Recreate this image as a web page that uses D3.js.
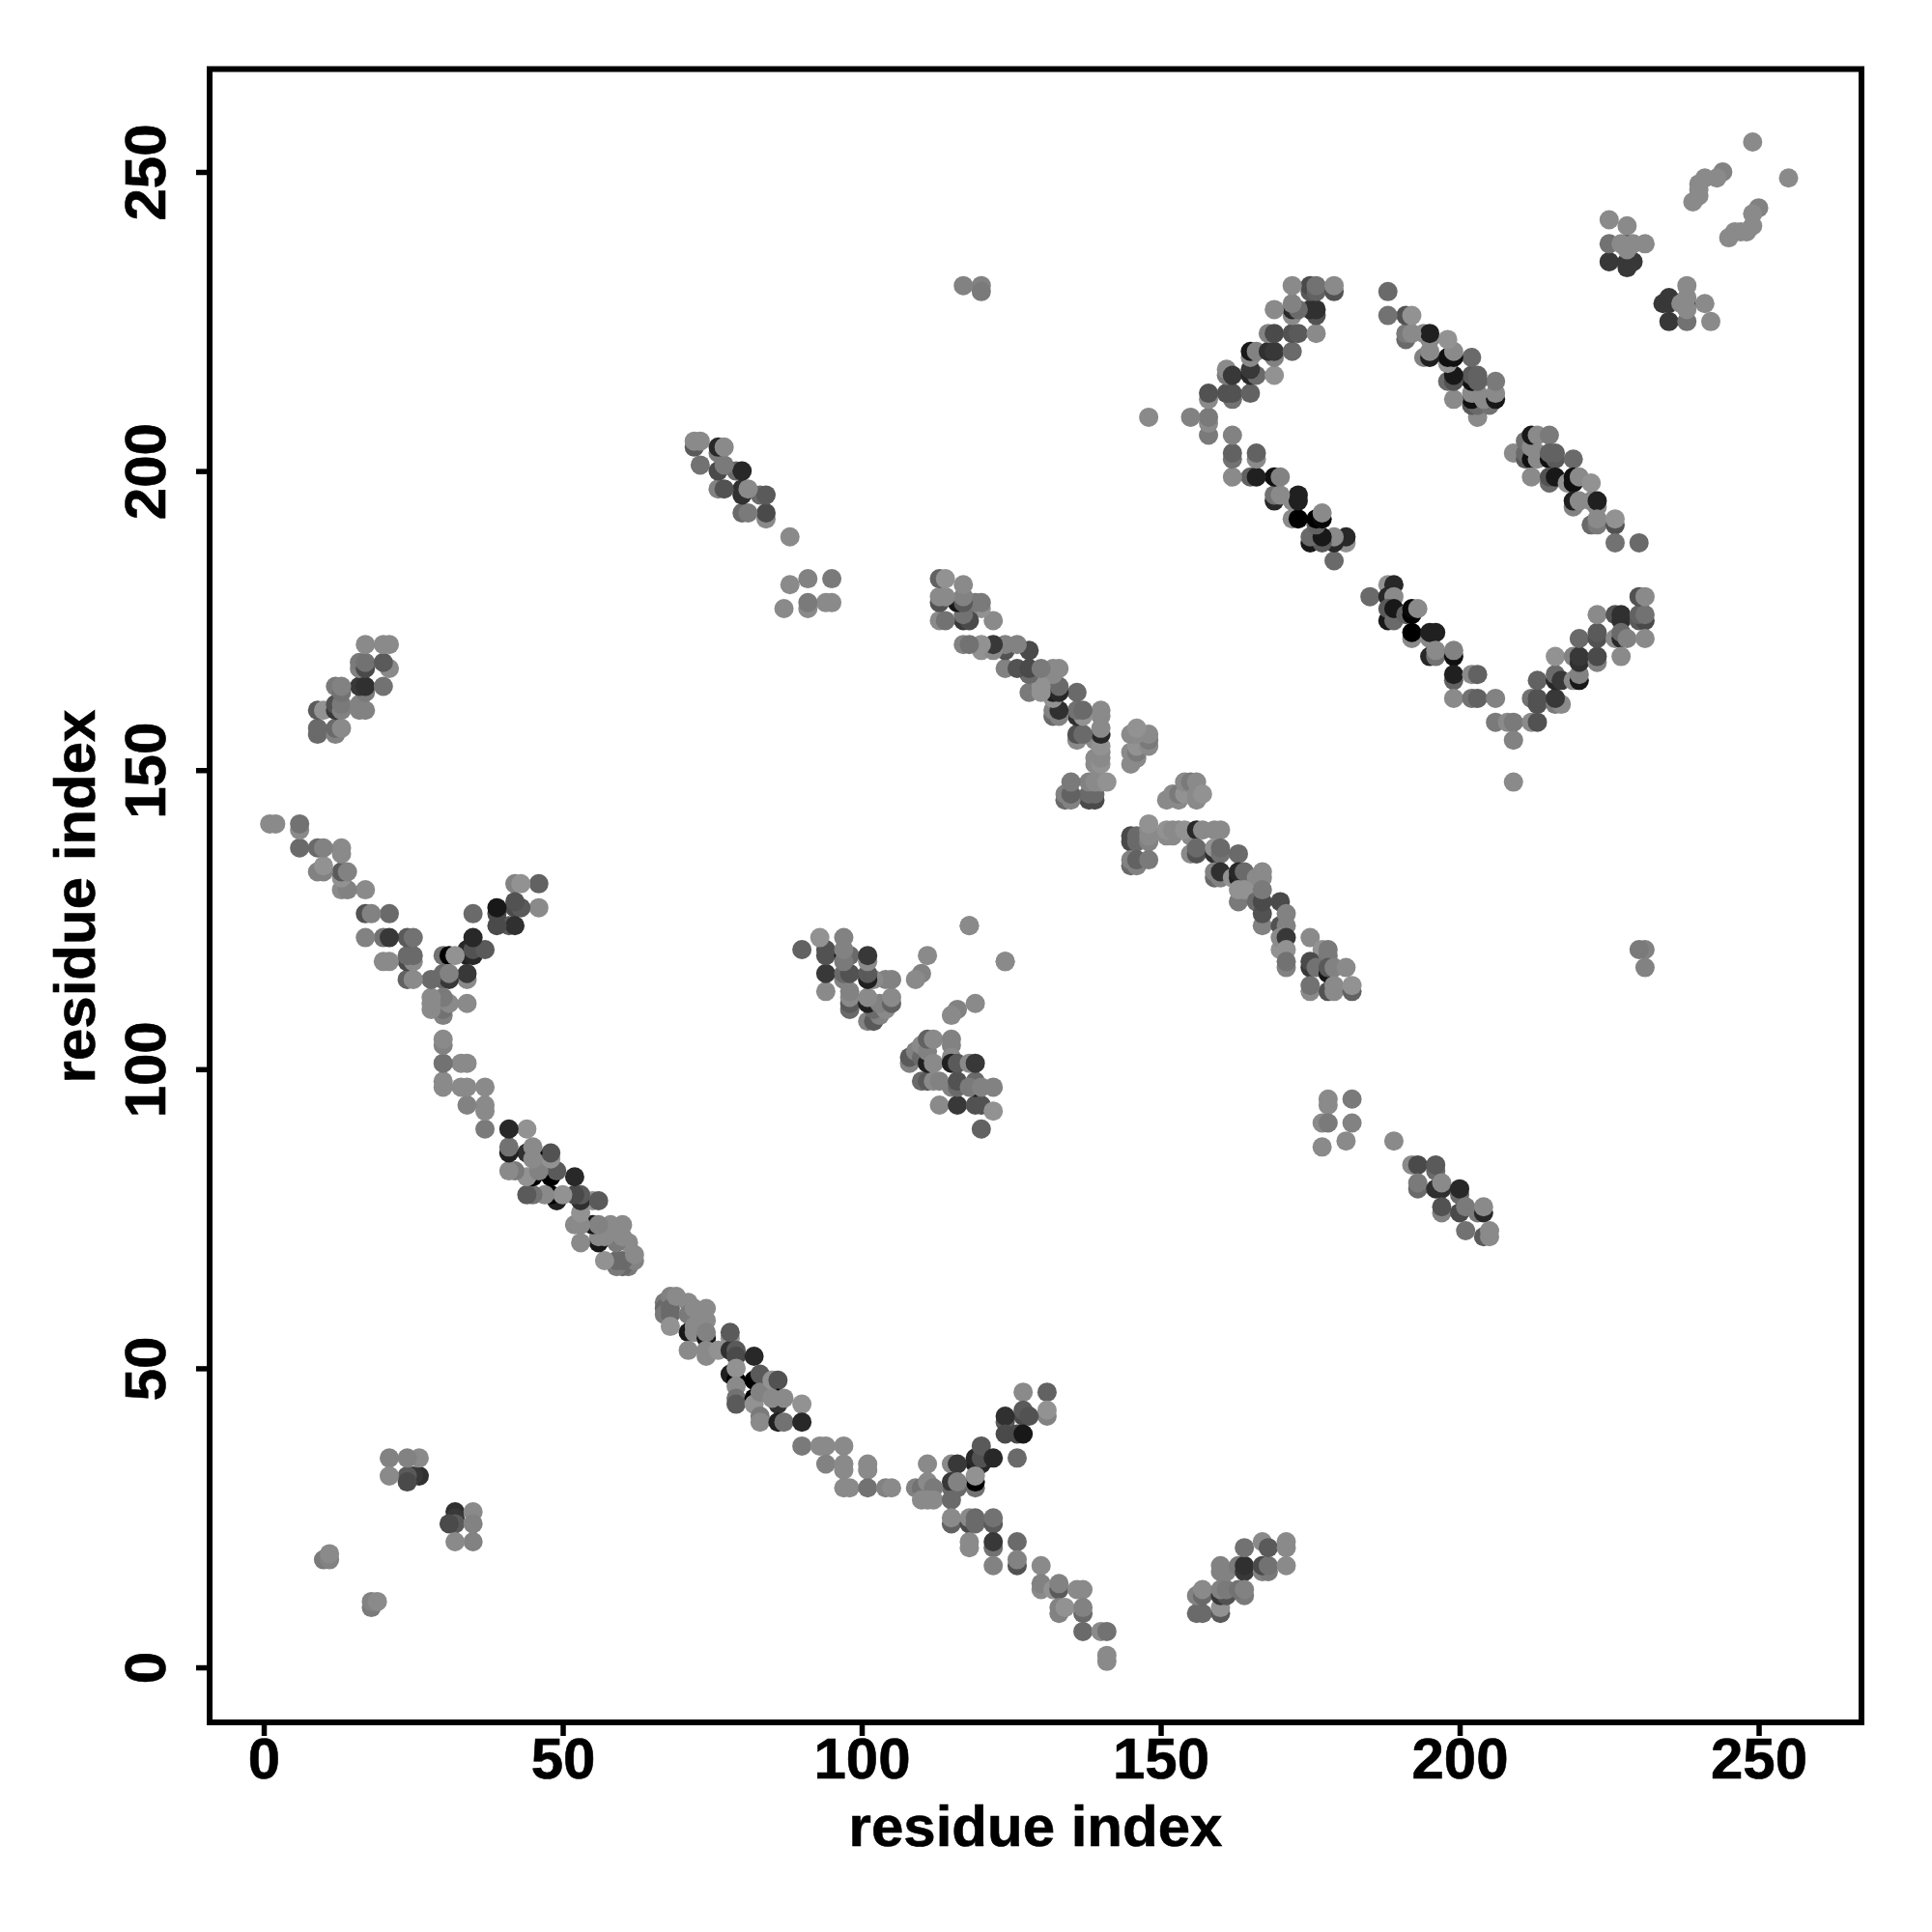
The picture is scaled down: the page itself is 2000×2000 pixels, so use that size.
<!DOCTYPE html>
<html><head><meta charset="utf-8">
<script src="https://cdn.jsdelivr.net/npm/d3@7"></script>
<style>html,body{margin:0;padding:0;background:#fff}svg{display:block}</style>
</head><body><div id="chart"></div>
<script>
// [residue i, residue j, grey level], i > j; the map is symmetric, so each contact is also drawn at (j, i)
const helixPairA=[[67,61,0x70],[67,60,0x60],[67,59,0x70],[68,62,0x78],[68,60,0x60],[68,59,0x60],[68,57,0x88],[69,62,0x80],[71,61,0x80],[71,59,0x70],[71,56,0x18],[71,53,0x80],[72,60,0x80],[72,57,0x80],[72,56,0x80],[74,55,0x18],[74,60,0x80],[74,58,0x80],[74,56,0x78],[74,53,0x80],[74,52,0x80],[76,53,0x88],[78,55,0x88],[78,53,0x30],[78,49,0x20],[78,56,0x50],[79,48,0],[79,53,0x50],[79,52,0x40],[79,50,0x88],[79,47,0x80],[79,45,0x68],[79,44,0x50],[82,52,0x28],[82,48,0],[83,49,0x50],[82,45,0],[82,44,0x88],[83,46,0x78],[83,42,0x70],[83,41,0x80],[85,48,0x88],[86,48,0x48],[86,45,0],[86,44,0x30],[85,45,0x80],[87,45,0x80],[86,41,0x20],[87,41,0x68],[90,44,0x88],[90,41,0x28]];
const tailA=[[90,37,0x70],[93,37,0x80],[94,37,0x80],[97,37,0x80],[94,34,0x78],[97,34,0x80],[97,33,0x80],[101,34,0x80],[101,33,0x80],[97,30,0x80],[98,30,0x80],[101,30,0x68],[104,30,0x78],[105,30,0x80]];
const forkB=[[127,46,0x80],[131,46,0x58],[131,42,0x78],[131,43,0x88],[127,42,0x40],[127,43,0x50],[128,42,0x48],[124,41,0x50],[124,42,0x30],[124,39,0x40],[126,39,0x40],[127,39,0x18],[119,34,0x20],[120,34,0x28],[119,35,0x28],[120,35,0x48],[120,37,0x50],[122,35,0x28],[126,35,0x60],[111,34,0x80],[115,34,0x80],[116,34,0x38],[119,30,0x68],[119,31,0],[119,32,0x88],[115,30,0x60],[116,30,0x60],[115,31,0x38],[116,31,0x78],[109,30,0x78],[110,30,0x68],[111,31,0x80],[112,30,0x70],[110,28,0x80],[111,28,0x80],[112,28,0x80],[115,28,0x60]];
const tailB=[[115,24,0x58],[115,25,0x80],[118,24,0x40],[118,25,0x80],[119,24,0x60],[119,25,0x60],[122,24,0x50],[122,25,0x68],[118,20,0x80],[118,21,0x80],[122,20,0x68],[122,21,0x38],[126,21,0x60],[122,17,0x78],[126,17,0x48],[126,18,0x78],[130,17,0x80],[130,13,0x80],[130,14,0x78],[132,13,0x88],[133,13,0x50],[133,14,0x78],[136,13,0x80],[137,13,0x80],[133,9,0x78],[133,10,0x78],[134,10,0x88],[137,9,0x60],[137,10,0x78],[137,6,0x60],[140,6,0x80],[141,6,0x68],[141,1,0x80],[141,2,0x80]];
const strandC=[[156,9,0x60],[157,9,0x60],[156,12,0x78],[157,12,0x60],[157,13,0x80],[160,9,0x50],[160,10,0x88],[160,12,0x38],[161,12,0x48],[160,13,0x78],[161,13,0x70],[160,16,0x78],[161,16,0x78],[160,17,0x78],[163,17,0x70],[164,16,0x38],[164,17,0x30],[164,12,0x70],[163,13,0x68],[164,13,0x78],[164,20,0x68],[167,21,0x80],[167,16,0x78],[168,16,0x70],[167,17,0x40],[168,17,0x68],[168,20,0x50],[171,20,0x80],[171,21,0x80],[171,17,0x80]];
const clusterD=[[118,124,0x80],[119,111,0x80],[116,110,0x78],[115,109,0x80],[120,90,0x58],[113,94,0x80],[116,94,0x38],[119,94,0x48],[120,94,0x48],[122,93,0x88],[110,98,0x60],[111,98,0x50],[112,98,0x80],[113,98,0x78],[115,97,0x78],[116,97,0x60],[116,98,0x48],[119,97,0x18],[119,98,0x60],[118,97,0x70],[120,97,0x78],[122,97,0x78],[108,101,0x78],[108,102,0x50],[109,103,0x78],[110,102,0x60],[110,104,0x80],[111,101,0x20],[111,103,0x78],[111,105,0x58],[112,105,0x80],[112,101,0x80],[115,105,0x78],[115,104,0x78],[115,102,0x80],[115,101,0x20],[116,101,0x50],[118,101,0x80],[119,101,0x38]];
const bandE=[[145,138,0x40],[145,139,0x40],[146,138,0x60],[146,139,0x60],[148,138,0x78],[148,139,0x80],[148,140,0x80],[148,141,0x88],[145,134,0x60],[146,134,0x78],[145,135,0x78],[146,135,0x58],[148,135,0x70],[151,139,0x80],[152,139,0x80],[151,140,0x88],[152,140,0x80],[153,140,0x80],[155,139,0x80],[154,140,0x88],[156,140,0x28],[157,140,0x80],[159,140,0x80],[160,140,0x80],[155,136,0x80],[156,136,0x48],[156,137,0x60],[159,136,0x30],[159,137,0x88],[160,136,0x68],[160,137,0x60],[163,136,0x60],[159,132,0x60],[159,133,0x78],[160,132,0x78],[160,133,0x30],[162,132,0x88],[163,132,0x20],[163,133,0x28],[164,133,0x60],[166,132,0x80],[167,132,0x80],[167,133,0x80],[163,128,0x70],[163,130,0x88],[164,130,0x88],[166,128,0x60],[167,124,0x78],[167,126,0x48],[167,128,0x40],[167,130,0x70],[170,128,0x40],[170,124,0x48],[171,126,0x78],[171,124,0x78],[170,120,0x88],[170,122,0x80],[171,122,0x38],[171,120,0x88],[171,117,0x78],[171,118,0x68],[175,122,0x80],[177,120,0x88],[178,119,0x70],[178,120,0x70],[175,117,0x38],[175,118,0x40],[176,117,0x68],[178,116,0x18],[178,117,0x50],[179,117,0x78],[181,117,0x80],[175,113,0x80],[175,114,0x68],[178,113,0x48],[179,113,0x80],[179,114,0x80],[182,113,0x58],[182,114,0x88]];
const knotE=[[151,145,0x80],[152,146,0x80],[153,145,0x80],[153,146,0x70],[154,146,0x88],[154,148,0x80],[155,148,0x70],[156,148,0x80],[156,145,0x80],[156,146,0x80],[157,146,0x88]];
const strandF=[[178,95,0x80],[178,94,0x80],[177,91,0x80],[178,91,0x70],[182,91,0x78],[182,95,0x70],[177,87,0x80],[181,88,0x80],[189,88,0x80],[192,84,0x80],[193,84,0x40],[196,83,0x60],[196,84,0x50],[193,80,0x60],[193,81,0x70],[196,80,0x30],[197,80,0x30],[197,81,0x80],[200,79,0x60],[200,80,0x28],[197,76,0x78],[197,77,0x48],[200,76,0x40],[201,77,0x70],[203,76,0x70],[204,76,0x28],[204,77,0x80],[201,73,0x68],[204,72,0x50],[205,72,0x80],[205,73,0x80]];
const vLeftG=[[185,179,0x60],[188,181,0x88],[189,181,0x28],[188,179,0x28],[189,179,0x80],[188,175,0x18],[188,177,0x50],[189,175,0x60],[189,177,0x18],[191,176,0x58],[192,176,0],[192,177,0x08],[193,177,0x80],[192,172,0x80],[192,173,0],[195,172,0x80],[195,173,0x20],[196,173,0x20],[195,169,0x28],[196,169,0x68],[196,170,0x80],[199,169,0x10],[199,170,0x78],[199,165,0x58],[199,166,0x20],[202,166,0x80],[203,166,0x58],[199,162,0x80],[202,162,0x68],[203,162,0x58],[206,162,0x78],[206,158,0x70],[208,158,0x80],[209,158,0x70],[209,155,0x78],[209,148,0x80]];
const vRightG=[[212,158,0x80],[213,158,0x48],[212,162,0x68],[213,161,0x48],[213,162,0x48],[213,165,0x58],[216,161,0x70],[217,161,0x80],[216,162,0x38],[216,165,0x28],[216,166,0x60],[217,165,0x38],[216,169,0x88],[219,165,0x80],[220,165,0x18],[220,166,0x78],[219,169,0x78],[220,168,0x30],[220,169,0x38],[220,172,0x60],[223,168,0x78],[223,169,0x40],[223,172,0x48],[223,173,0x50],[223,176,0x80],[226,176,0x48],[227,175,0x30],[227,176,0x30],[226,172,0x80],[227,172,0x28],[227,173,0x60],[228,172,0x78],[227,169,0x80],[230,175,0x50],[231,175,0x40],[230,176,0x58],[231,176,0x68],[230,179,0x48],[231,179,0x80],[231,172,0x80]];
const lineH=[[209,203,0x80],[211,202,0x50],[211,203,0x60],[211,205,0x68],[212,202,0x10],[212,204,0x80],[212,206,0x18],[213,202,0x80],[213,203,0x80],[213,206,0x80],[215,206,0x70],[215,202,0x10],[216,202,0x50],[215,203,0x58],[216,203,0x58],[219,202,0x60],[212,199,0x80],[215,198,0x60],[215,199,0x48],[216,199,0x18],[218,198,0x88],[219,198,0x10],[219,199,0x10],[220,199,0x80],[222,198,0x88],[219,194,0x78],[219,195,0x20],[220,195,0x80],[222,195,0x80],[223,194,0x80],[223,195,0x20],[222,191,0x60],[223,191,0x70],[223,192,0x80],[226,191,0x48],[226,192,0x88],[226,188,0x68],[230,188,0x60]];
const cornerI=[[235,225,0x38],[238,225,0x68],[242,225,0x80],[234,228,0x38],[235,228,0x38],[235,229,0x38],[238,228,0x28],[238,227,0x80],[238,229,0x80],[238,231,0x80],[237,228,0x80],[241,228,0x80],[255,249,0x80],[250,244,0x78],[249,243,0x80],[249,241,0x80],[248,240,0x80],[247,240,0x80],[246,240,0x80],[245,239,0x80]];
const isolatedJ=[[18,10,0x70],[18,11,0x78],[19,11,0x80],[32,26,0x30],[32,25,0x38],[32,24,0x50],[31,24,0x40],[35,26,0x80],[35,24,0x78],[35,21,0x78],[32,21,0x80],[231,117,0x78],[231,120,0x78],[230,120,0x70],[124,118,0x80]];
const contactGroups=[helixPairA,tailA,forkB,tailB,strandC,clusterD,bandE,knotE,strandF,vLeftG,vRightG,lineH,cornerI,isolatedJ];
const tickValues=[0,50,100,150,200,250];
const xLabel="residue index", yLabel="residue index";

const W=2000,H=2000;
const x=d3.scaleLinear().domain([-9.05,267.2]).range([217,1927]);
const y=d3.scaleLinear().domain([-9.2,267.2]).range([1783,71.5]);
const svg=d3.select("#chart").append("svg").attr("width",W).attr("height",H).style("font-family","'Liberation Sans',Arial,sans-serif").style("font-weight","bold");
svg.append("rect").attr("width",W).attr("height",H).attr("fill","#fff");

const contacts=[];
contactGroups.forEach(g=>g.forEach(([i,j,s])=>{contacts.push([i,j,s]);contacts.push([j,i,s]);}));
const tone=s=>s>=0x40?s+10:s;
svg.append("g").selectAll("circle").data(contacts).join("circle")
  .attr("cx",d=>x(d[0])).attr("cy",d=>y(d[1])).attr("r",10)
  .attr("fill",d=>`rgb(${tone(d[2])},${tone(d[2])},${tone(d[2])})`);

svg.append("rect").attr("x",217).attr("y",71.5).attr("width",1710).attr("height",1711.5)
  .attr("fill","none").attr("stroke","#000").attr("stroke-width",6);

const labelStyle=s=>s.style("font-size","60px").style("font-family","'Liberation Sans'").style("font-weight","bold").attr("stroke","#000").attr("stroke-width",0.6).attr("fill","#000");

const ax=svg.append("g").attr("transform","translate(0,1783)")
  .call(d3.axisBottom(x).tickValues(tickValues).tickSize(14).tickPadding(0).tickFormat(d3.format("d")));
ax.select(".domain").remove();
ax.selectAll("line").attr("stroke","#000").attr("stroke-width",5.5);
ax.selectAll("text").attr("y",58).attr("dy",0).call(labelStyle);

const ay=svg.append("g").attr("transform","translate(217,0)")
  .call(d3.axisLeft(y).tickValues(tickValues).tickSize(14).tickPadding(0).tickFormat(d3.format("d")));
ay.select(".domain").remove();
ay.selectAll("line").attr("stroke","#000").attr("stroke-width",5.5);
ay.selectAll("text").attr("x",0).attr("y",0).attr("dy",0).attr("text-anchor","middle")
  .attr("transform","translate(-46,0) rotate(-90)").call(labelStyle);

svg.append("text").attr("x",1072).attr("y",1911).attr("text-anchor","middle").text(xLabel).call(labelStyle);
svg.append("text").attr("transform","translate(98,928) rotate(-90)").attr("text-anchor","middle").text(yLabel).call(labelStyle);
</script></body></html>
